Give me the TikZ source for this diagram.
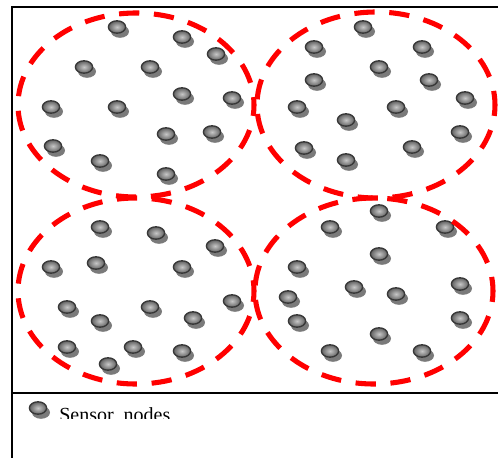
\documentclass[tikz,border=0pt]{standalone}
\usepackage{fontspec}
\setmainfont{Liberation Serif}
\tikzset{
  framepen/.style={black,line width=2bp},
  cluster/.style={red,line width=3.8bp,dash pattern=on 15.2bp off 11bp,dash phase=7bp},
  sensorshadow/.style={fill=black!52,draw=none},
  sensorbody/.style={draw=black!78,line width=1bp,inner color=black!22,outer color=black!62},
  pics/sensor/.style={code={
    \fill[sensorshadow] (3,-4.5) ellipse [x radius=9,y radius=6.3];
    \path[sensorbody] (0,0) ellipse [x radius=8.6,y radius=6.2];
  }}
}
\begin{document}
\begin{tikzpicture}[x=0.75bp,y=-0.75bp]
\useasboundingbox (0,0) rectangle (498,458);
\fill[white] (0,0) rectangle (498,458);
\foreach \p in {(117,27),(182,37),(216,54),(84,67),(150,67),(182,94),(232,98),(51,107),(117,107),(166,134),(212,132),(53,146),(100,161),(166,174),
(363,27),(314,47),(422,47),(379,67),(314,80),(429,80),(297,107),(396,107),(465,98),(346,120),(460,132),(304,148),(412,147),(346,160),
(100,227),(156,233),(215,246),(51,267),(96,263),(182,267),(67,307),(150,307),(232,301),(100,321),(193,318),(67,347),(133,347),(182,351),(108,364),
(379,211),(330,227),(445,227),(379,254),(297,267),(354,287),(288,297),(396,294),(460,284),(297,321),(460,318),(379,334),(330,351),(422,351),(38,408)}
  \pic[yscale=-1] at \p {sensor};
\draw[framepen] (498,7) -- (12,7) -- (12,458);
\draw[framepen] (12,393) -- (498,393);
\draw[cluster] (136,105) ellipse [x radius=118,y radius=92];
\draw[cluster] (376,105) ellipse [x radius=119,y radius=93];
\draw[cluster] (136,291) ellipse [x radius=118,y radius=93];
\draw[cluster] (374,291) ellipse [x radius=119,y radius=93];
\begin{scope}
\clip (40,395) rectangle (498,418.5);
\node[anchor=base west,inner sep=0pt,font=\fontsize{15bp}{17bp}\selectfont] (legend) at (59,421.5) {Sensor\ \ nodes};
\end{scope}
\end{tikzpicture}
\end{document}
